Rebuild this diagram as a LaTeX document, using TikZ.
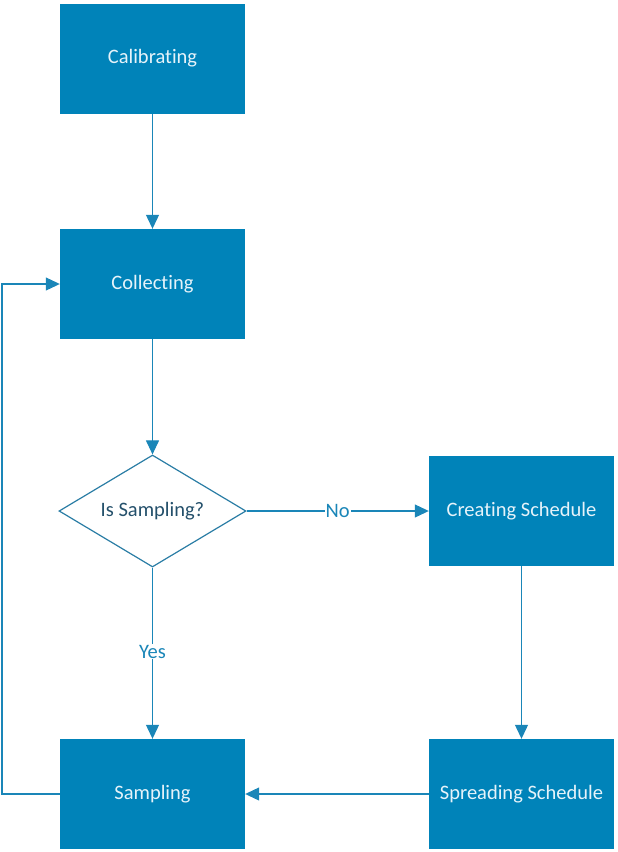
\documentclass[tikz,border=0pt]{standalone}
\usepackage{fontspec}
\setmainfont[Ligatures={NoCommon,NoRare}]{Carlito}
\usepackage{xcolor}
\usepackage{tikz}
\usetikzlibrary{arrows.meta,shapes.geometric}
\definecolor{boxblue}{HTML}{0083B9}
\definecolor{boxtext}{HTML}{E6F3FA}
\definecolor{rim}{HTML}{2A7DA5}
\definecolor{asktext}{HTML}{24506B}
\definecolor{flow}{HTML}{1A86B8}

\begin{document}
\begin{tikzpicture}[x=1pt,y=-1pt,
  every node/.style={font=\fontsize{20.5}{24}\selectfont},
  stepbox/.style={fill=boxblue,text=boxtext,minimum width=185pt,minimum height=110pt,inner sep=0pt},
  ask/.style={diamond,draw=rim,line width=1.2pt,fill=white,text=asktext,aspect=1.67,
    minimum width=187pt,minimum height=112pt,inner sep=0pt},
  flowline/.style={draw=flow,line width=1.1pt,-{Triangle[length=14pt,width=13pt]}},
  answer/.style={fill=white,text=flow,inner sep=1pt}]
  \useasboundingbox (0,0) rectangle (618,852);

  \node[stepbox] (calib) at (152.5,58.5) {Calibrating};
  \node[stepbox] (collect) at (152.5,284) {Collecting};
  \node[ask] (issamp) at (152.5,511) {Is Sampling?};
  \node[stepbox] (create) at (521.5,511) {Creating Schedule};
  \node[stepbox] (spread) at (521.5,794) {Spreading Schedule};
  \node[stepbox] (samp) at (152.5,794) {Sampling};
  \coordinate (loop) at (2,794);

  \draw[flowline] (calib) -- (collect);
  \draw[flowline] (collect) -- (issamp);
  \draw[flowline] (issamp) -- node[answer,pos=0.5] {No} (create);
  \draw[flowline] (issamp) -- node[answer,pos=0.49] {Yes} (samp);
  \draw[flowline] (create) -- (spread);
  \draw[flowline] (spread) -- (samp);
  \draw[flowline] (samp) -- (loop) |- (collect);
\end{tikzpicture}
\end{document}
